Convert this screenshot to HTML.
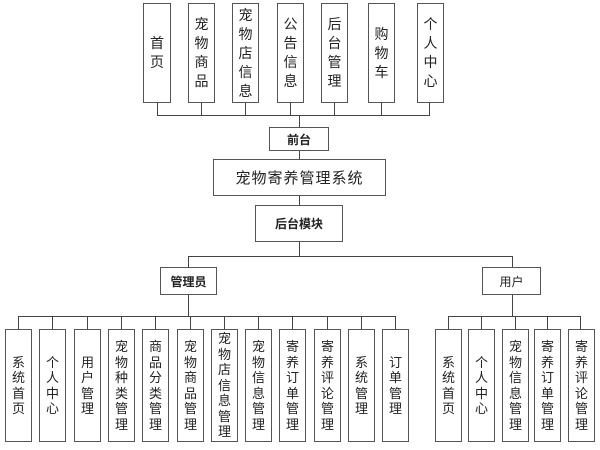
<!DOCTYPE html>
<html><head><meta charset="utf-8"><style>
html,body{margin:0;padding:0;background:#fff;width:600px;height:450px;overflow:hidden;position:relative}
.b{position:absolute;box-sizing:border-box;border:1px solid #555;background:#fff;display:flex;align-items:center;justify-content:center;text-align:center;font-family:"Liberation Sans","Noto Sans CJK SC",sans-serif;color:#222}
.t{font-size:14px;line-height:19px}
.s{font-size:13px;line-height:15.5px}
.l{position:absolute;background:#444}
</style></head><body>
<!-- top lines -->
<div class="l" style="left:157px;top:103px;width:1px;height:12px"></div>
<div class="l" style="left:201px;top:103px;width:1px;height:12px"></div>
<div class="l" style="left:245px;top:103px;width:1px;height:12px"></div>
<div class="l" style="left:290px;top:103px;width:1px;height:12px"></div>
<div class="l" style="left:334px;top:103px;width:1px;height:12px"></div>
<div class="l" style="left:381px;top:103px;width:1px;height:12px"></div>
<div class="l" style="left:429px;top:103px;width:1px;height:12px"></div>
<div class="l" style="left:157px;top:115px;width:273px;height:1px"></div>
<div class="l" style="left:299px;top:115px;width:1px;height:12px"></div>
<div class="l" style="left:299px;top:151px;width:1px;height:8px"></div>
<div class="l" style="left:299px;top:196px;width:1px;height:9px"></div>
<div class="l" style="left:299px;top:242px;width:1px;height:14px"></div>
<div class="l" style="left:188px;top:256px;width:325px;height:1px"></div>
<div class="l" style="left:188px;top:256px;width:1px;height:11px"></div>
<div class="l" style="left:512px;top:256px;width:1px;height:11px"></div>
<div class="l" style="left:188px;top:295px;width:1px;height:21px"></div>
<div class="l" style="left:512px;top:295px;width:1px;height:21px"></div>
<div class="l" style="left:18px;top:316px;width:378px;height:1px"></div>
<div class="l" style="left:448px;top:316px;width:133px;height:1px"></div>
<div class="l" style="left:18px;top:316px;width:1px;height:13px"></div>
<div class="l" style="left:52px;top:316px;width:1px;height:13px"></div>
<div class="l" style="left:87px;top:316px;width:1px;height:13px"></div>
<div class="l" style="left:121px;top:316px;width:1px;height:13px"></div>
<div class="l" style="left:155px;top:316px;width:1px;height:13px"></div>
<div class="l" style="left:190px;top:316px;width:1px;height:13px"></div>
<div class="l" style="left:224px;top:316px;width:1px;height:13px"></div>
<div class="l" style="left:258px;top:316px;width:1px;height:13px"></div>
<div class="l" style="left:292px;top:316px;width:1px;height:13px"></div>
<div class="l" style="left:327px;top:316px;width:1px;height:13px"></div>
<div class="l" style="left:361px;top:316px;width:1px;height:13px"></div>
<div class="l" style="left:395px;top:316px;width:1px;height:13px"></div>
<div class="l" style="left:448px;top:316px;width:1px;height:13px"></div>
<div class="l" style="left:481px;top:316px;width:1px;height:13px"></div>
<div class="l" style="left:515px;top:316px;width:1px;height:13px"></div>
<div class="l" style="left:547px;top:316px;width:1px;height:13px"></div>
<div class="l" style="left:580px;top:316px;width:1px;height:13px"></div>

<!-- top boxes -->
<div class="b t" style="left:143px;top:3px;width:28px;height:100px">首<br>页</div>
<div class="b t" style="left:188px;top:3px;width:27px;height:100px">宠<br>物<br>商<br>品</div>
<div class="b t" style="left:232px;top:3px;width:27px;height:100px">宠<br>物<br>店<br>信<br>息</div>
<div class="b t" style="left:277px;top:3px;width:27px;height:100px">公<br>告<br>信<br>息</div>
<div class="b t" style="left:321px;top:3px;width:27px;height:100px">后<br>台<br>管<br>理</div>
<div class="b t" style="left:368px;top:3px;width:27px;height:100px">购<br>物<br>车</div>
<div class="b t" style="left:417px;top:3px;width:27px;height:100px">个<br>人<br>中<br>心</div>

<div class="b" style="left:269px;top:127px;width:60px;height:24px;font-size:12px;font-weight:bold">前台</div>
<div class="b" style="left:213px;top:159px;width:173px;height:37px;font-size:15px;letter-spacing:1px">宠物寄养管理系统</div>
<div class="b" style="left:255px;top:205px;width:88px;height:37px;font-size:12px;font-weight:bold">后台模块</div>
<div class="b" style="left:160px;top:267px;width:57px;height:28px;font-size:12px;font-weight:bold">管理员</div>
<div class="b" style="left:482px;top:267px;width:59px;height:28px;font-size:12px">用户</div>

<!-- admin boxes -->
<div class="b s" style="left:5px;top:329px;width:27px;height:113px">系<br>统<br>首<br>页</div>
<div class="b s" style="left:39px;top:329px;width:27px;height:113px">个<br>人<br>中<br>心</div>
<div class="b s" style="left:74px;top:329px;width:27px;height:113px">用<br>户<br>管<br>理</div>
<div class="b s" style="left:108px;top:329px;width:27px;height:113px">宠<br>物<br>种<br>类<br>管<br>理</div>
<div class="b s" style="left:142px;top:329px;width:27px;height:113px">商<br>品<br>分<br>类<br>管<br>理</div>
<div class="b s" style="left:177px;top:329px;width:27px;height:113px">宠<br>物<br>商<br>品<br>管<br>理</div>
<div class="b s" style="left:211px;top:329px;width:27px;height:113px">宠<br>物<br>店<br>信<br>息<br>管<br>理</div>
<div class="b s" style="left:245px;top:329px;width:27px;height:113px">宠<br>物<br>信<br>息<br>管<br>理</div>
<div class="b s" style="left:279px;top:329px;width:27px;height:113px">寄<br>养<br>订<br>单<br>管<br>理</div>
<div class="b s" style="left:314px;top:329px;width:27px;height:113px">寄<br>养<br>评<br>论<br>管<br>理</div>
<div class="b s" style="left:348px;top:329px;width:27px;height:113px">系<br>统<br>管<br>理</div>
<div class="b s" style="left:382px;top:329px;width:27px;height:113px">订<br>单<br>管<br>理</div>

<!-- user boxes -->
<div class="b s" style="left:435px;top:329px;width:27px;height:113px">系<br>统<br>首<br>页</div>
<div class="b s" style="left:468px;top:329px;width:27px;height:113px">个<br>人<br>中<br>心</div>
<div class="b s" style="left:502px;top:329px;width:27px;height:113px">宠<br>物<br>信<br>息<br>管<br>理</div>
<div class="b s" style="left:534px;top:329px;width:27px;height:113px">寄<br>养<br>订<br>单<br>管<br>理</div>
<div class="b s" style="left:568px;top:329px;width:27px;height:113px">寄<br>养<br>评<br>论<br>管<br>理</div>
</body></html>
